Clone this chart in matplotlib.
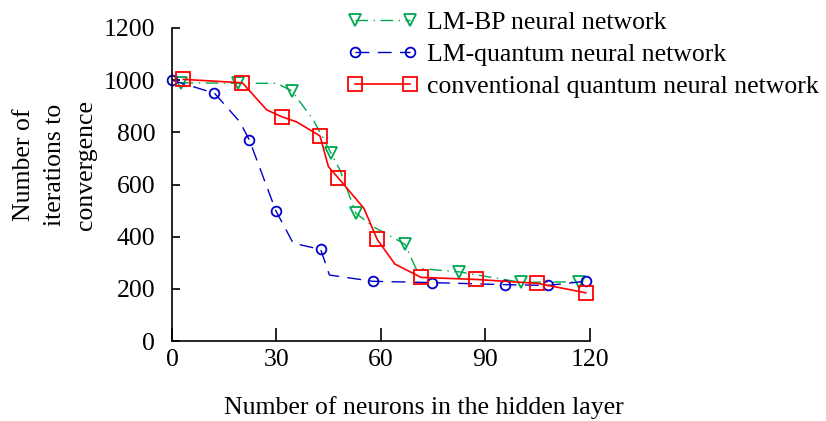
import matplotlib
matplotlib.use('Agg')
from matplotlib import pyplot as plt

plt.rcParams['font.family'] = ['Liberation Serif', 'DejaVu Serif']

# LM-BP neural network (dash-dot, triangles)
bp_x = [2.5, 18.9, 30.0, 34.4, 40.6, 45.6, 48.2, 52.8, 57.8, 66.9, 70.0, 82.5, 100.1, 116.9]
bp_y = [990, 988, 988, 959, 847, 722, 656, 490, 438, 371, 279, 265, 225, 227]
bp_marks = [0, 1, 3, 5, 7, 9, 11, 12, 13]

# LM-quantum neural network (dashed, circles)
lmq_x = [0, 12.2, 19.5, 22.2, 29.8, 34.8, 42.7, 45.2, 57.6, 74.6, 95.7, 107.9, 118.8]
lmq_y = [1000, 950, 840, 771, 500, 375, 351, 253, 229, 224, 216, 213, 229]
lmq_marks = [0, 1, 3, 4, 6, 8, 9, 10, 11, 12]

# conventional quantum neural network (solid, squares)
cq_x = [3.3, 20.2, 27.2, 31.5, 35.8, 42.5, 44.9, 47.8, 55.1, 58.9, 64.0, 71.5, 87.3, 104.9, 118.8]
cq_y = [1003, 990, 886, 860, 840, 786, 669, 624, 509, 390, 295, 244, 236, 221, 185]
cq_marks = [0, 1, 3, 5, 7, 9, 11, 12, 13, 14]

x_ticks = [0, 30, 60, 90, 120]
y_ticks = [0, 200, 400, 600, 800, 1000, 1200]

fs = 18.5

fig = plt.figure(figsize=(8.26, 4.21), dpi=100)
ax = fig.add_axes([0.2082, 0.19, 0.506, 0.7435])

green = '#00a84f'
blue = '#0000cc'
red = '#ff0000'

ax.plot(bp_x, bp_y, color=green, lw=1.0, dashes=[9, 4, 1, 4],
        marker='v', markevery=bp_marks, ms=9, mfc='none', mec=green, mew=1.3,
        clip_on=False, label='LM-BP neural network')
ax.plot(lmq_x, lmq_y, color=blue, lw=1.0, dashes=[10, 6],
        marker='o', markevery=lmq_marks, ms=7, mfc='none', mec=blue, mew=1.3,
        clip_on=False, label='LM-quantum neural network')
ax.plot(cq_x, cq_y, color=red, lw=1.2, ls='-',
        marker='s', markevery=cq_marks, ms=10, mfc='none', mec=red, mew=1.3,
        clip_on=False, label='conventional quantum neural network')

ax.set_xlim(0, 120)
ax.set_ylim(0, 1200)
ax.set_xticks(x_ticks)
ax.set_yticks(y_ticks)
ax.spines['top'].set_visible(False)
ax.spines['right'].set_visible(False)
for s in ['left', 'bottom']:
    ax.spines[s].set_linewidth(1.2)
ax.tick_params(axis='x', direction='in', length=9.5, width=1.2, pad=6, labelsize=fs)
ax.tick_params(axis='y', direction='in', length=6, width=1.2, pad=12, labelsize=fs)

fig.text(55 / 826, 1 - 165 / 421, 'Number of\niterations to\nconvergence',
         rotation=90, ha='center', va='center', fontsize=fs, linespacing=1.5)
fig.text(424 / 826, 1 - 408 / 421, 'Number of neurons in the hidden layer',
         ha='center', va='center', fontsize=fs)

fig.legend(loc='upper left', bbox_to_anchor=(337 / 826, 1 - 1 / 421), frameon=False,
           fontsize=fs, numpoints=2, handlelength=2.74, handletextpad=0.36,
           labelspacing=0.34, borderaxespad=0)

fig.savefig('out.png', dpi=100)
